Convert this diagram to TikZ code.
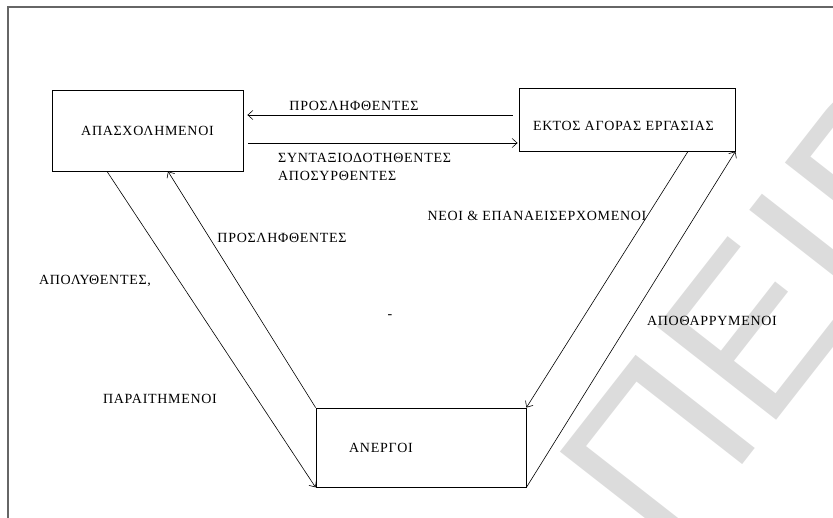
\documentclass[tikz,border=0pt]{standalone}
\usepackage{fontspec}
\setmainfont{Liberation Serif}[LetterSpace=5]
\newfontfamily\wmfont{Liberation Sans}
\usetikzlibrary{arrows.meta}
\usepackage{xcolor}
\definecolor{wmgray}{HTML}{DCDCDC}
\definecolor{framegray}{HTML}{666666}

\begin{document}
\begin{tikzpicture}[x=1pt,y=-1pt,
    every node/.style={font=\fontsize{14}{18}\selectfont},
    box/.style={draw, line width=0.8pt, inner sep=0pt},
    flow/.style={line width=0.6pt, -{Straight Barb[length=5pt,width=9pt]}},
    lbl/.style={inner sep=0pt}]
  \path[use as bounding box, clip] (0,0) rectangle (833,518);
  % watermark
  \node[anchor=base west, rotate=52, text=wmgray, inner sep=0pt,
        font=\fontsize{220}{220}\wmfont] (wmark) at (668,560) {ΠΕΙΡΑ};
  % frame
  \draw[framegray, line width=1.5pt] (8,530) -- (8,7) -- (845,7);
  % states
  \node[box, minimum width=191pt, minimum height=81pt] (work) at (147.5,130.5) {ΑΠΑΣΧΟΛΗΜΕΝΟΙ};
  \node[box, minimum width=216pt, minimum height=63pt] (out) at (627,119.5) {};
  \node[lbl] (outtext) at (623.5,126) {ΕΚΤΟΣ ΑΓΟΡΑΣ ΕΡΓΑΣΙΑΣ};
  \node[box, minimum width=210pt, minimum height=79pt] (unemp) at (421,447.5) {};
  \node[lbl] (unemptext) at (381,448) {ΑΝΕΡΓΟΙ};
  % flows
  \draw[flow, shorten <=6pt, shorten >=4pt] ([yshift=4.5pt]out.west) -- ([yshift=15.5pt]work.east);
  \draw[flow, shorten <=5pt, shorten >=1pt] ([yshift=-12.5pt]work.east) -- ([yshift=-23.5pt]out.west);
  \draw[flow] ([xshift=-40.5pt]work.south) -- (unemp.south west);
  \draw[flow] (unemp.north west) -- ([xshift=20.5pt]work.south);
  \draw[flow] ([xshift=61pt]out.south) -- (unemp.north east);
  \draw[flow] (unemp.south east) -- (out.south east);
  % labels
  \node[lbl] (hirtop) at (354,106) {ΠΡΟΣΛΗΦΘΕΝΤΕΣ};
  \node[lbl, anchor=north west, align=left] (retired) at (278,153) {ΣΥΝΤΑΞΙΟΔΟΤΗΘΕΝΤΕΣ\\ΑΠΟΣΥΡΘΕΝΤΕΣ};
  \node[lbl] (hirmid) at (282,238) {ΠΡΟΣΛΗΦΘΕΝΤΕΣ};
  \node[lbl] (fired) at (95,281) {ΑΠΟΛΥΘΕΝΤΕΣ,};
  \node[lbl] (resigned) at (160,399) {ΠΑΡΑΙΤΗΜΕΝΟΙ};
  \node[lbl] (newcomers) at (537,216) {ΝΕΟΙ \& ΕΠΑΝΑΕΙΣΕΡΧΟΜΕΝΟΙ};
  \node[lbl] (discouraged) at (712,321) {ΑΠΟΘΑΡΡΥΜΕΝΟΙ};
  \node[lbl] (stray) at (390,317) {-};
\end{tikzpicture}
\end{document}
